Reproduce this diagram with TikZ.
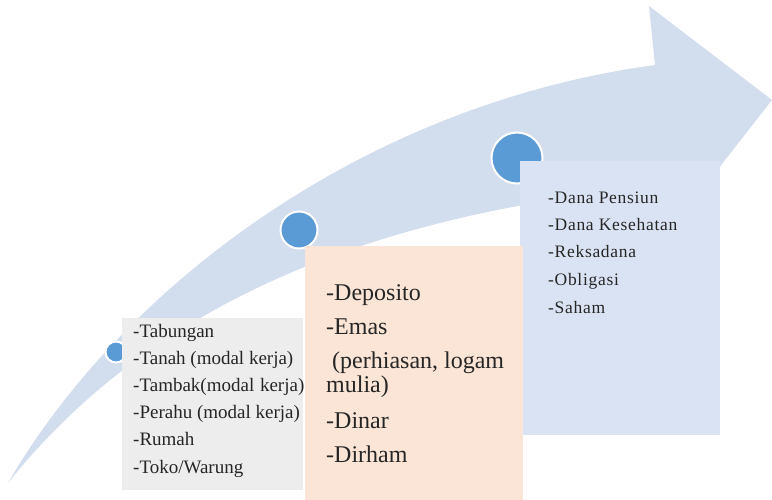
\documentclass[tikz,border=0pt]{standalone}
\usepackage{fontspec}
\setmainfont{Liberation Serif}
\newfontfamily\spacedserif[LetterSpace=4]{Liberation Serif}
\definecolor{arrowblue}{RGB}{210,221,238}
\definecolor{dotblue}{RGB}{91,155,213}
\definecolor{boxgray}{RGB}{237,237,237}
\definecolor{boxpeach}{RGB}{251,229,214}
\definecolor{boxblue}{RGB}{218,227,243}
\definecolor{txtgray}{RGB}{38,38,38}

\begin{document}
\begin{tikzpicture}[x=1pt,y=-1pt,
	dot/.style={circle,fill=dotblue,draw=white,line width=2pt,inner sep=0pt},
	panel/.style={rectangle,inner sep=0pt,anchor=north west},
	item/.style={anchor=base west,inner sep=0pt,text=txtgray}]
	\useasboundingbox (0,0) rectangle (772,500);

	% the big curved arrow
	\fill [arrowblue] (8,483) .. controls (120,290) and (360,105) .. (655,65) -- (649,6) -- (772,100)
		-- (682,215) -- (668,186) .. controls (330,215) and (130,330) .. (8,483) -- cycle;

	\node [dot,minimum size=21pt] (d1) at (116,352) {};
	\node [dot,minimum size=37pt] (d2) at (299,230) {};
	\node [dot,minimum size=51pt] (d3) at (517,158) {};

	\node [panel,fill=boxgray,minimum width=181pt,minimum height=172pt] (gray) at (122,318) {};
	\node [panel,fill=boxblue,minimum width=200pt,minimum height=274pt] (blue) at (520,161) {};
	\node [panel,fill=boxpeach,minimum width=218pt,minimum height=254pt] (peach) at (305,246) {};

	\foreach \txt [count=\i] in {-Tabungan, -Tanah (modal kerja), -Tambak(modal\hspace{1pt} kerja), -Perahu (modal kerja), -Rumah, -Toko/Warung}
		\node [item,font=\fontsize{19}{21}\selectfont] (g\i) at (133,{337+27.2*(\i-1)}) {\txt};

	\foreach \txt/\yy [count=\i] in {-Deposito/300, -Emas/334, {\ (perhiasan, logam}/368, mulia)/392, -Dinar/428, -Dirham/462}
		\node [item,font=\fontsize{24}{26}\selectfont] (p\i) at (326,\yy) {\txt};

	\foreach \txt/\yy [count=\i] in {-Dana Pensiun/204, -Dana Kesehatan/230, -Reksadana/258, -Obligasi/285, -Saham/313}
		\node [item,font=\spacedserif\fontsize{17.5}{19}\selectfont] (b\i) at (548,\yy) {\txt};
\end{tikzpicture}
\end{document}
